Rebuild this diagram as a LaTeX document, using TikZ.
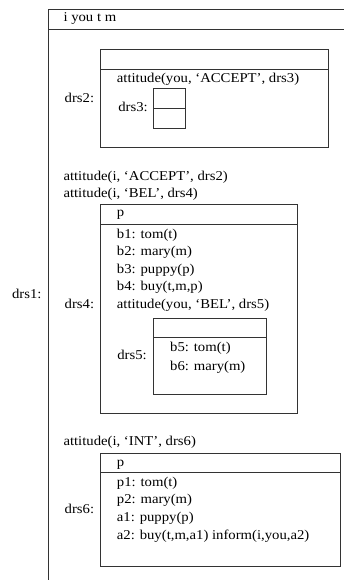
\documentclass[tikz,border=0pt]{standalone}
\usepackage{fontspec}
\setmainfont{Liberation Serif}[FakeStretch=1.09]
\usepackage{tikz}
\usetikzlibrary{positioning, calc}

\newcommand{\drsbox}[5]{%
    \node (#1) at #2 [box_style, minimum width=#3pt, minimum height=#4pt] {};
    % Header division line
    \draw[line_style] ($(#1.north west)+(0pt,-#5pt)$) -- ($(#1.north east)+(0pt,-#5pt)$);
}

\begin{document}
\begin{tikzpicture}[
        x=1pt, y=-1pt,
        line_style/.style={line width=0.8pt, draw=black!80},
        box_style/.style={line_style, anchor=north west, inner sep=0pt},
        txt/.style={anchor=base west, inner sep=0pt, font=\fontsize{13.5}{16}\selectfont},
        lbl/.style={anchor=base east, inner sep=0pt, font=\fontsize{13.5}{16}\selectfont}
    ]
    \useasboundingbox (0,0) rectangle (344,580);
    \clip (0,0) rectangle (344,580);

    % =========================================================================
    % 1. BOXES
    % =========================================================================
    \drsbox{drs1}{(48.3, 9.3)}{320}{600}{20}
    \drsbox{drs2}{(100.3, 49.3)}{228}{97.4}{19.7}
    \drsbox{drs3}{(153.3, 88.3)}{31.7}{39.4}{20}
    \drsbox{drs4}{(100.3, 204.3)}{197}{209}{19.7}
    \drsbox{drs5}{(153.3, 318.3)}{112.7}{75.7}{19}
    \drsbox{drs6}{(100.3, 452.7)}{239.7}{113.3}{19.6}

    % =========================================================================
    % 2. BOX LABELS
    % =========================================================================
    \node[lbl] (lbl1) at (41.7, 298.3) {drs1:};
    \node[lbl] (lbl2) at (94.3, 103) {drs2:};
    \node[lbl] (lbl3) at (148, 111.7) {drs3:};
    \node[lbl] (lbl4) at (94.3, 308.3) {drs4:};
    \node[lbl] (lbl5) at (147, 359.3) {drs5:};
    \node[lbl] (lbl6) at (94.3, 513.3) {drs6:};

    % =========================================================================
    % 3. DRS1 CONTENTS
    % =========================================================================
    \node[txt] (hdr1) at (63.3, 21.7) {i you t m};
    \node[txt] (att1) at (116.7, 82.7) {attitude(you, ‘ACCEPT’, drs3)};
    \node[txt] (att2) at (63.3, 180) {attitude(i, ‘ACCEPT’, drs2)};
    \node[txt] (att3) at (63.3, 197.3) {attitude(i, ‘BEL’, drs4)};
    \node[txt] (att5) at (63.3, 445) {attitude(i, ‘INT’, drs6)};

    % =========================================================================
    % 4. DRS4 CONTENTS
    % =========================================================================
    \node[txt] (hdr4) at (116.7, 216.7) {p};
    \node[txt] (b1) at (116.7, 238.3) {b1: tom(t)};
    \node[txt] (b2) at (116.7, 255.6) {b2: mary(m)};
    \node[txt] (b3) at (116.7, 273) {b3: puppy(p)};
    \node[txt] (b4) at (116.7, 290.3) {b4: buy(t,m,p)};
    \node[txt] (att4) at (116.7, 308.3) {attitude(you, ‘BEL’, drs5)};
    \node[txt] (b5) at (170, 351.7) {b5: tom(t)};
    \node[txt] (b6) at (170, 370) {b6: mary(m)};

    % =========================================================================
    % 5. DRS6 CONTENTS
    % =========================================================================
    \node[txt] (hdr6) at (116.7, 466.7) {p};
    \node[txt] (p1) at (116.7, 486) {p1: tom(t)};
    \node[txt] (p2) at (116.7, 503.3) {p2: mary(m)};
    \node[txt] (a1) at (116.7, 521.7) {a1: puppy(p)};
    \node[txt] (a2) at (116.7, 539) {a2: buy(t,m,a1) inform(i,you,a2)};

\end{tikzpicture}
\end{document}
